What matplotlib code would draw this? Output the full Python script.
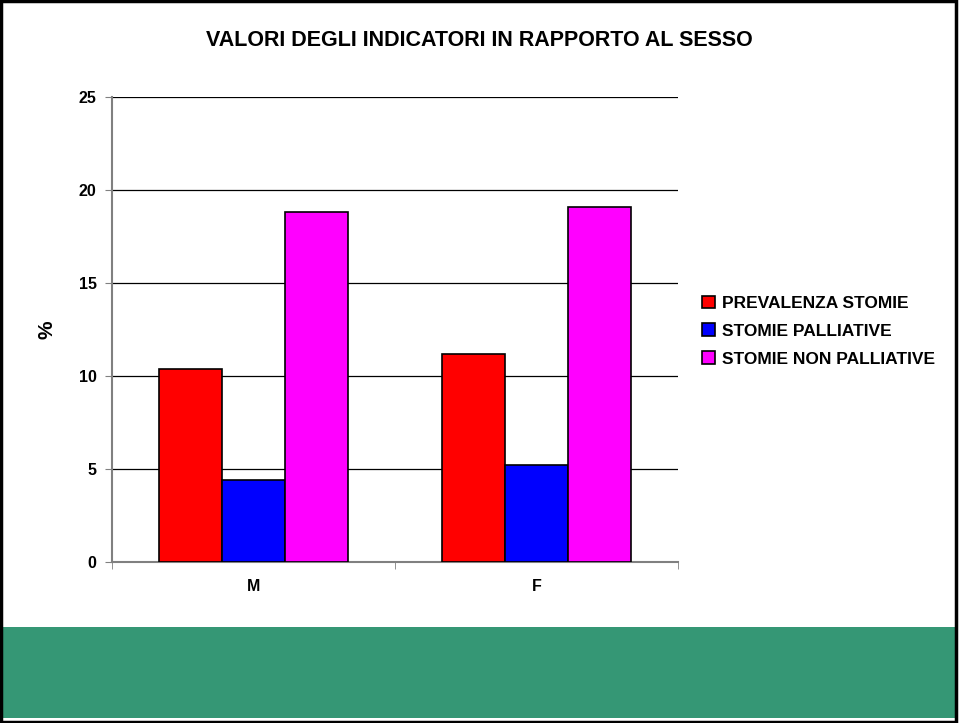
import matplotlib.pyplot as plt
import numpy as np
from matplotlib.patches import Rectangle

categories = ['M', 'F']
series_names = ['PREVALENZA STOMIE', 'STOMIE PALLIATIVE', 'STOMIE NON PALLIATIVE']
prevalenza = [10.4, 11.2]
palliative = [4.4, 5.2]
non_palliative = [18.8, 19.1]
colors = ['#ff0000', '#0000ff', '#ff00ff']
yticks = [0, 5, 10, 15, 20, 25]

plt.rcParams['font.family'] = ['Liberation Sans', 'DejaVu Sans']
plt.rcParams['font.weight'] = 'bold'

fig = plt.figure(figsize=(9.59, 7.23), dpi=100)

# green band at the bottom of the slide
fig.patches.append(Rectangle((2 / 959, 5 / 723), 953 / 959, 91 / 723,
                             transform=fig.transFigure, facecolor='#359775',
                             edgecolor='none', zorder=0))
# outer frame
fig.patches.append(Rectangle((0.001, 0.002), 0.996, 0.996, transform=fig.transFigure,
                             facecolor='none', edgecolor='black', linewidth=2.5, zorder=5))

ax = fig.add_axes([112 / 959, 1 - 562 / 723, 566 / 959, 465 / 723])

x = np.arange(len(categories))
w = 0.223
values = [prevalenza, palliative, non_palliative]
for i, (vals, name, c) in enumerate(zip(values, series_names, colors)):
    ax.bar(x + (i - 1) * w, vals, width=w, color=c, edgecolor='black',
           linewidth=1.2, label=name, zorder=3)

ax.set_xlim(-0.5, 1.5)
ax.set_ylim(0, 25)
ax.set_yticks(yticks)
ax.set_xticks(x)
ax.set_xticklabels(categories)
ax.tick_params(axis='x', which='major', length=0, pad=12, labelsize=11.5)
ax.set_xticks([-0.5, 0.5, 1.5], minor=True)
ax.tick_params(axis='x', which='minor', length=5, color='#808080', direction='out')
ax.tick_params(axis='y', labelsize=11.5, length=5, color='#808080', direction='out', pad=6)
ax.yaxis.grid(True, color='black', linewidth=0.9, zorder=0)
ax.set_axisbelow(True)
for s in ['top', 'right']:
    ax.spines[s].set_visible(False)
ax.spines['left'].set_color('#808080')
ax.spines['bottom'].set_color('#808080')
ax.spines['left'].set_linewidth(1.5)
ax.spines['bottom'].set_linewidth(1.5)
ax.set_ylabel('%', fontsize=15, fontweight='bold', labelpad=16)

fig.text(0.5, 1 - 41 / 723, 'VALORI DEGLI INDICATORI IN RAPPORTO AL SESSO',
         ha='center', va='center', fontsize=15.5, fontweight='bold')

ax.legend(loc='upper left', bbox_to_anchor=(1.03, 0.588), frameon=False,
          handlelength=0.75, handleheight=0.75, handletextpad=0.4,
          labelspacing=0.72, borderaxespad=0,
          prop={'weight': 'bold', 'size': 12.5})

fig.savefig('out.png', dpi=100)
